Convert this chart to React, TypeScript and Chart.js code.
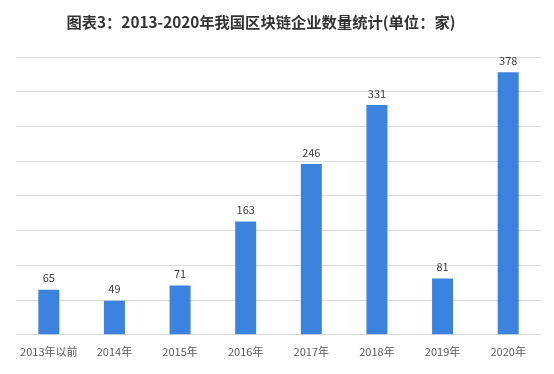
import React, { useEffect, useRef } from "react";
import { Chart, registerables } from "chart.js";

Chart.register(...registerables);

const categories = ["2013年以前", "2014年", "2015年", "2016年", "2017年", "2018年", "2019年", "2020年"];
const values = [65, 49, 71, 163, 246, 331, 81, 378];
const titleText = "图表3：2013-2020年我国区块链企业数量统计(单位：家)";

const FONT = "'Noto Sans CJK SC', 'Noto Sans', sans-serif";

const dataLabels = {
  id: "dataLabels",
  afterDatasetsDraw(chart: any) {
    const ctx = chart.ctx;
    const meta = chart.getDatasetMeta(0);
    ctx.save();
    ctx.font = `11px ${FONT}`;
    ctx.fillStyle = "#404040";
    ctx.textAlign = "center";
    ctx.textBaseline = "bottom";
    meta.data.forEach((bar: any, i: number) => {
      ctx.fillText(String(values[i]), bar.x, bar.y - 6);
    });
    ctx.restore();
  },
};

const titlePlugin = {
  id: "customTitle",
  afterDraw(chart: any) {
    const ctx = chart.ctx;
    ctx.save();
    ctx.font = `bold 15.3px ${FONT}`;
    ctx.fillStyle = "#333333";
    ctx.textAlign = "center";
    ctx.textBaseline = "middle";
    ctx.fillText(titleText, 261, 22);
    ctx.restore();
  },
};

export default function App() {
  const ref = useRef<HTMLCanvasElement>(null);
  useEffect(() => {
    document.body.style.margin = "0";
    const chart = new Chart(ref.current!, {
      type: "bar",
      data: {
        labels: categories,
        datasets: [
          {
            data: values,
            backgroundColor: "#3c83df",
            categoryPercentage: 0.64,
            barPercentage: 0.5,
          },
        ],
      },
      options: {
        animation: false,
        responsive: false,
        layout: { padding: { left: 16, right: 13, top: 57, bottom: 14 } },
        plugins: {
          legend: { display: false },
          tooltip: { enabled: false },
          title: { display: false },
        },
        scales: {
          x: {
            grid: { display: false },
            border: { display: false },
            ticks: { color: "#595959", font: { family: FONT, size: 11 }, padding: 2, maxRotation: 0 },
          },
          y: {
            min: 0,
            max: 400,
            ticks: { display: false, stepSize: 50 },
            grid: { color: "#d9d9d9", drawTicks: false },
            border: { display: false },
          },
        },
      },
      plugins: [dataLabels, titlePlugin],
    });
    return () => chart.destroy();
  }, []);
  return (
    <div style={{ width: 554, height: 374 }}>
      <canvas ref={ref} width={554} height={374} style={{ display: "block" }} />
    </div>
  );
}
